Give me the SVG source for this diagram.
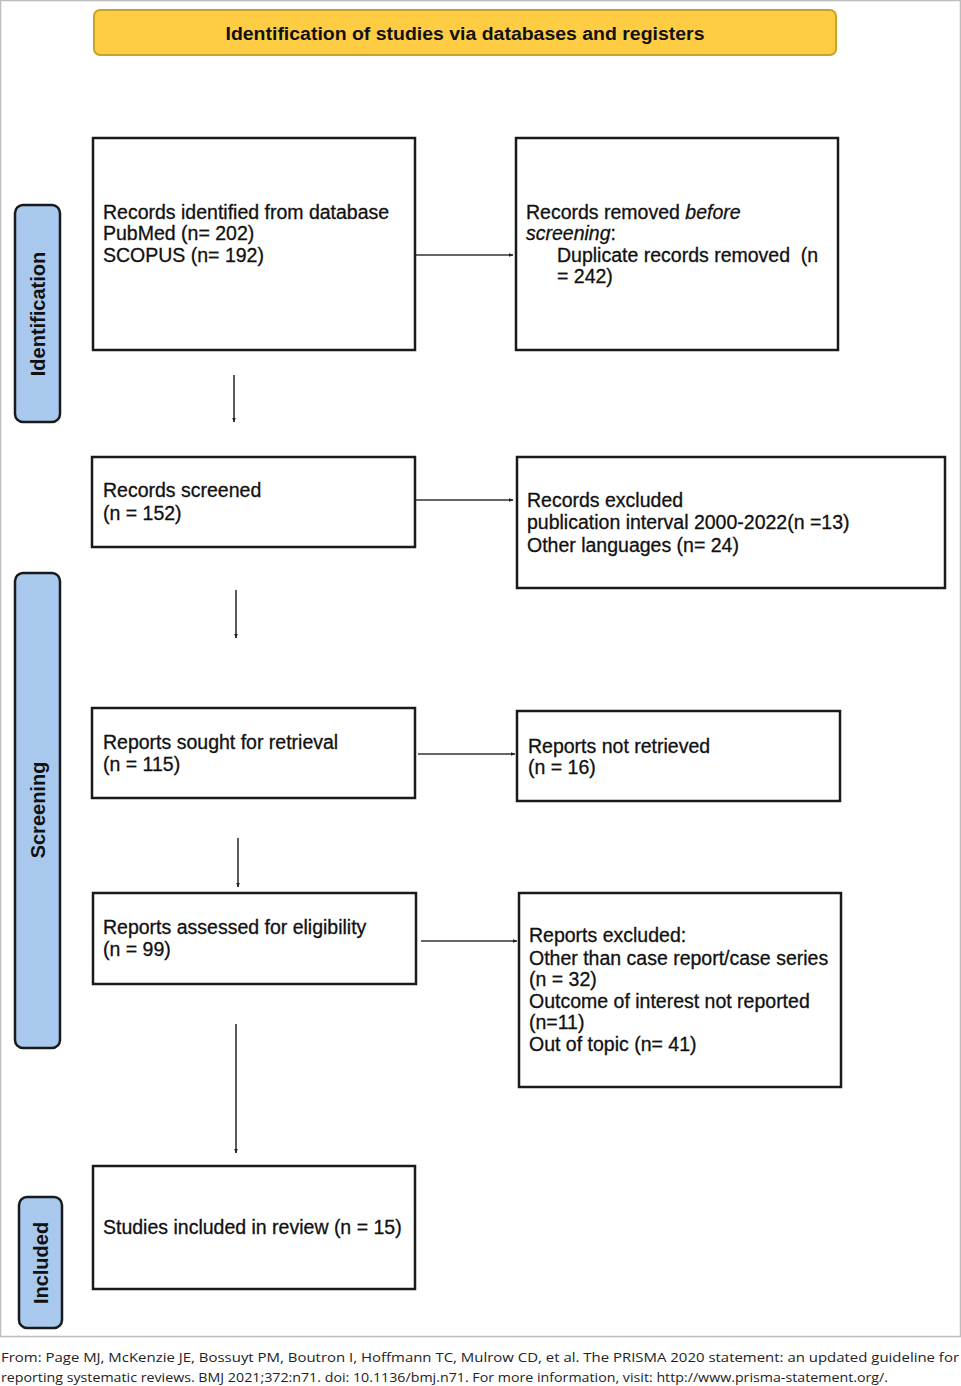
<svg xmlns="http://www.w3.org/2000/svg" width="961" height="1386" viewBox="0 0 961 1386">
<defs>
<marker id="ah" viewBox="0 0 10 10" refX="9" refY="5" markerWidth="5" markerHeight="5" orient="auto" markerUnits="userSpaceOnUse"><path d="M0,1 L10,5 L0,9 z" fill="#222"/></marker>
</defs>
<style>
.box{fill:#fff;stroke:#1a1a1a;stroke-width:2.5}
.side{fill:#a9c8ee;stroke:#1a1a1a;stroke-width:2.5}
.t{font-family:"Liberation Sans",Arial,sans-serif;font-size:19.5px;fill:#111;stroke:#111;stroke-width:0.3}
.st{font-family:"Liberation Sans",Arial,sans-serif;font-size:20px;font-weight:bold;fill:#111}
.ht{font-family:"Liberation Sans",Arial,sans-serif;font-size:18px;font-weight:bold;fill:#111}
.c{stroke:#333;stroke-width:1.6;fill:none;marker-end:url(#ah)}
.ft{font-family:"Open Sans","Liberation Sans",sans-serif;font-size:13px;fill:#222}
</style>
<rect x="0" y="0" width="961" height="1386" fill="#fff"/>
<rect x="0.5" y="0.5" width="960" height="1336" fill="none" stroke="#bdbdbd" stroke-width="1.5"/>
<g id="header">
<rect x="94" y="10" width="742" height="45" rx="6" fill="#ffcd44" stroke="#c9a227" stroke-width="2"/>
<text class="ht" x="465" y="40" text-anchor="middle" textLength="479" lengthAdjust="spacingAndGlyphs">Identification of studies via databases and registers</text>
</g>
<g id="side-identification">
<rect class="side" x="15" y="205" width="45" height="217" rx="8"/>
<text class="st" transform="translate(45,314) rotate(-90)" text-anchor="middle">Identification</text>
</g>
<g id="side-screening">
<rect class="side" x="15" y="573" width="45" height="475" rx="8"/>
<text class="st" transform="translate(45,810) rotate(-90)" text-anchor="middle">Screening</text>
</g>
<g id="side-included">
<rect class="side" x="19" y="1197" width="43" height="131" rx="8"/>
<text class="st" transform="translate(48,1263) rotate(-90)" text-anchor="middle">Included</text>
</g>
<g id="n1">
<rect class="box" x="93" y="138" width="322" height="212"/>
<text class="t" x="103" y="219">Records identified from database</text>
<text class="t" x="103" y="240">PubMed (n= 202)</text>
<text class="t" x="103" y="262">SCOPUS (n= 192)</text>
</g>
<g id="n2">
<rect class="box" x="516" y="138" width="322" height="212"/>
<text class="t" x="526" y="219">Records removed <tspan font-style="italic">before</tspan></text>
<text class="t" x="526" y="240"><tspan font-style="italic">screening</tspan>:</text>
<text class="t" x="557" y="262">Duplicate records removed &#160;(n</text>
<text class="t" x="557" y="283">= 242)</text>
</g>
<g id="n3">
<rect class="box" x="92" y="457" width="323" height="90"/>
<text class="t" x="103" y="497">Records screened</text>
<text class="t" x="103" y="520">(n = 152)</text>
</g>
<g id="n4">
<rect class="box" x="517" y="457" width="428" height="131"/>
<text class="t" x="527" y="507">Records excluded</text>
<text class="t" x="527" y="529">publication interval 2000-2022(n =13)</text>
<text class="t" x="527" y="552">Other languages (n= 24)</text>
</g>
<g id="n5">
<rect class="box" x="92" y="708" width="323" height="90"/>
<text class="t" x="103" y="749">Reports sought for retrieval</text>
<text class="t" x="103" y="771">(n = 115)</text>
</g>
<g id="n6">
<rect class="box" x="517" y="711" width="323" height="90"/>
<text class="t" x="528" y="753">Reports not retrieved</text>
<text class="t" x="528" y="774">(n = 16)</text>
</g>
<g id="n7">
<rect class="box" x="93" y="893" width="323" height="91"/>
<text class="t" x="103" y="934">Reports assessed for eligibility</text>
<text class="t" x="103" y="956">(n = 99)</text>
</g>
<g id="n8">
<rect class="box" x="519" y="893" width="322" height="194"/>
<text class="t" x="529" y="942">Reports excluded:</text>
<text class="t" x="529" y="965">Other than case report/case series</text>
<text class="t" x="529" y="986">(n = 32)</text>
<text class="t" x="529" y="1008">Outcome of interest not reported</text>
<text class="t" x="529" y="1029">(n=11)</text>
<text class="t" x="529" y="1051">Out of topic (n= 41)</text>
</g>
<g id="n9">
<rect class="box" x="93" y="1166" width="322" height="123"/>
<text class="t" x="103" y="1234">Studies included in review (n = 15)</text>
</g>
<g id="connectors">
<line class="c" x1="234" y1="375" x2="234" y2="422"/>
<line class="c" x1="416" y1="255" x2="513" y2="255"/>
<line class="c" x1="416" y1="500" x2="513" y2="500"/>
<line class="c" x1="236" y1="590" x2="236" y2="638"/>
<line class="c" x1="418" y1="754" x2="515" y2="754"/>
<line class="c" x1="238" y1="838" x2="238" y2="887"/>
<line class="c" x1="421" y1="941" x2="517" y2="941"/>
<line class="c" x1="236" y1="1024" x2="236" y2="1153"/>
</g>
<g id="footer">
<text class="ft" x="1" y="1362" textLength="958" lengthAdjust="spacingAndGlyphs">From: Page MJ, McKenzie JE, Bossuyt PM, Boutron I, Hoffmann TC, Mulrow CD, et al. The PRISMA 2020 statement: an updated guideline for</text>
<text class="ft" x="1" y="1382" textLength="887" lengthAdjust="spacingAndGlyphs">reporting systematic reviews. BMJ 2021;372:n71. doi: 10.1136/bmj.n71. For more information, visit: http://www.prisma-statement.org/.</text>
</g>
</svg>
